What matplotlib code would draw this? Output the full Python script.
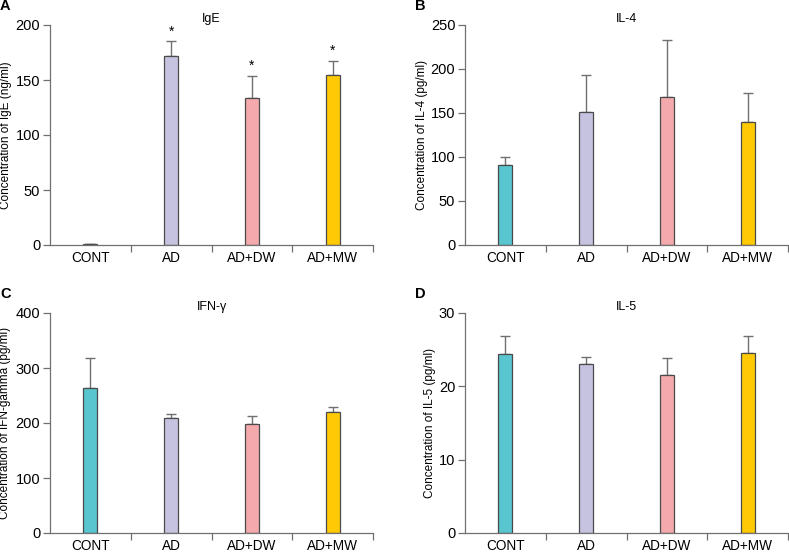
import matplotlib
matplotlib.use('Agg')
import matplotlib.pyplot as plt
import numpy as np

plt.rcParams['font.family'] = ['Liberation Sans', 'DejaVu Sans']

groups = ['CONT', 'AD', 'AD+DW', 'AD+MW']
colors = ['#58C5CF', '#C6C3E1', '#F4A9AC', '#FFCA05']

ige = [1.0, 171.5, 133.5, 154.5]
ige_err = [0.0, 13.5, 20.5, 13.0]
ige_star = [False, True, True, True]

il4 = [90.5, 151.0, 168.5, 139.5]
il4_err = [9.5, 42.0, 65.0, 33.0]

ifn = [264.5, 208.5, 199.0, 220.0]
ifn_err = [53.5, 8.5, 13.0, 8.5]

il5 = [24.35, 23.0, 21.6, 24.6]
il5_err = [2.55, 1.0, 2.2, 2.3]

W, H = 789, 552
fig = plt.figure(figsize=(W / 100, H / 100), dpi=100)


def px_axes(left, top, right, bottom):
    return fig.add_axes([left / W, (H - bottom) / H, (right - left) / W, (bottom - top) / H])


def panel(ax, vals, errs, ymax, step, title, ylabel, letter, label_x, stars=None):
    x = np.arange(len(groups))
    ax.bar(x, vals, width=0.175, color=colors, edgecolor='#4a4a4a', linewidth=0.9, zorder=2)
    ax.errorbar(x, vals, yerr=[np.zeros(len(vals)), errs], fmt='none',
                ecolor='#707070', elinewidth=1.0, capsize=3.5, capthick=1.0, zorder=1)
    if stars is not None:
        for i, s in enumerate(stars):
            if s:
                ax.text(x[i], vals[i] + errs[i] + ymax * 0.012, '*', ha='center', va='bottom',
                        fontsize=10)
    ax.set_xlim(-0.5, 3.5)
    ax.set_ylim(0, ymax)
    ax.set_yticks(np.arange(0, ymax + 1e-9, step))
    ax.set_xticks(x)
    ax.set_xticklabels(groups, fontsize=9.8)
    ax.set_xticks([0.5, 1.5, 2.5, 3.5], minor=True)
    ax.tick_params(axis='x', which='major', length=0, pad=4.5)
    ax.tick_params(axis='x', which='minor', length=5, width=0.9, color='#707070', direction='out')
    ax.tick_params(axis='y', length=5, width=0.9, color='#707070', labelsize=10.5, pad=2)
    for side in ['top', 'right']:
        ax.spines[side].set_visible(False)
    for side in ['left', 'bottom']:
        ax.spines[side].set_color('#707070')
        ax.spines[side].set_linewidth(0.9)
    ax.set_title(title, fontsize=9, pad=2.5)
    ax.set_ylabel(ylabel, fontsize=8.5)
    ax.yaxis.set_label_coords(label_x, 0.5)
    ax.text(-0.155, 1.12, letter, transform=ax.transAxes, fontsize=10.5, fontweight='bold',
            ha='left', va='top')


ax_a = px_axes(50, 25, 373, 245)
panel(ax_a, ige, ige_err, 200, 50, 'IgE', 'Concentration of IgE (ng/ml)', 'A', -0.118, ige_star)

ax_b = px_axes(465, 25, 788, 245)
panel(ax_b, il4, il4_err, 250, 50, 'IL-4', 'Concentration of IL-4 (pg/ml)', 'B', -0.115)

ax_c = px_axes(50, 313, 373, 533)
panel(ax_c, ifn, ifn_err, 400, 100, 'IFN-γ', 'Concentration of IFN-gamma (pg/ml)', 'C', -0.12)

ax_d = px_axes(465, 313, 788, 533)
panel(ax_d, il5, il5_err, 30, 10, 'IL-5', 'Concentration of IL-5 (pg/ml)', 'D', -0.09)

fig.savefig('out.png', dpi=100)
